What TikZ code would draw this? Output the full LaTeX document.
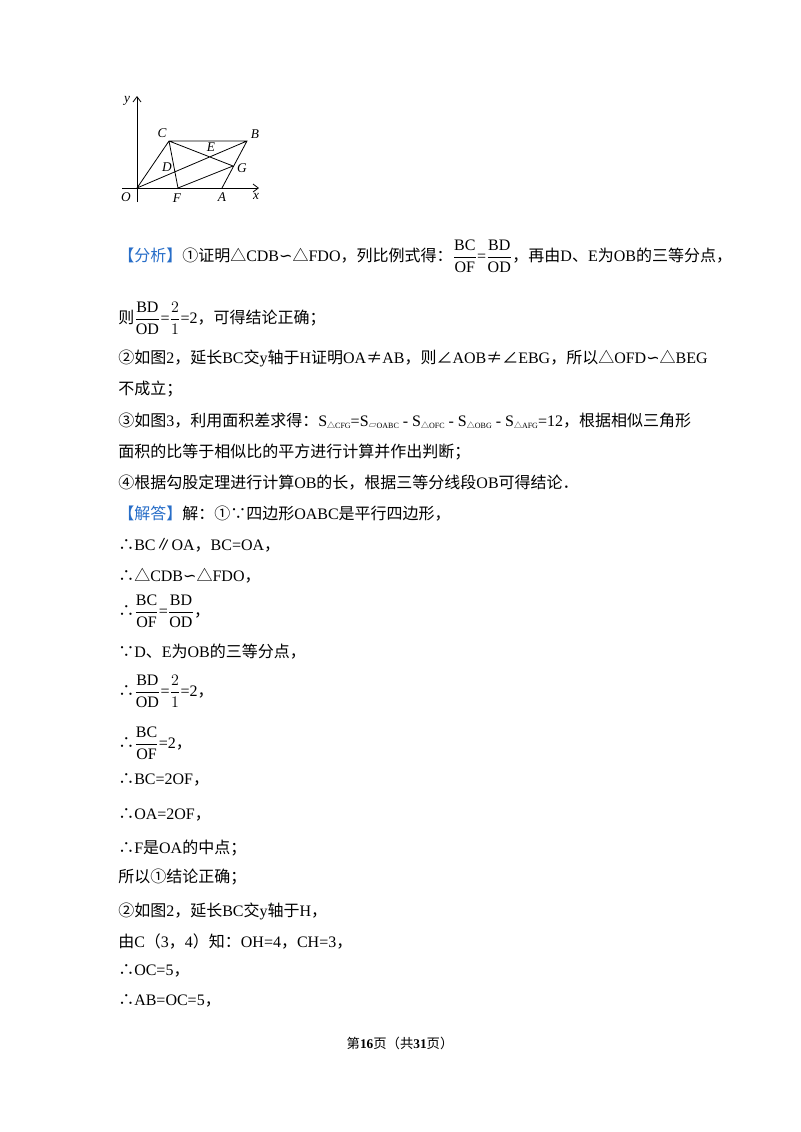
\documentclass[tikz,border=0pt]{standalone}
\usetikzlibrary{arrows.meta}
\usepackage{fontspec}
\setmainfont{Liberation Serif}
\newfontfamily\zh{Noto Sans CJK SC}
\newfontfamily\djfont{DejaVu Sans}
\definecolor{hb}{RGB}{40,110,200}
\newcommand{\simsym}{{\djfont ∽}}
\newcommand{\tfr}[2]{$\displaystyle\frac{\mathrm{#1}}{\mathrm{#2}}$}
\newcommand{\subsm}[1]{\raisebox{-0.3ex}{\fontsize{6}{6}\selectfont #1}}
\begin{document}
\begin{tikzpicture}[x=0.75pt,y=-0.75pt,
  tx/.style={anchor=west,inner sep=0pt,font=\fontsize{12}{14}\selectfont},
  lb/.style={inner sep=0pt,font=\fontsize{10}{12}\selectfont\itshape},
  ax/.style={line width=0.6pt,-{Straight Barb[length=4pt,width=6pt]}}]
\path[use as bounding box] (0,0) rectangle (800,1132);
% figure
\coordinate (O) at (137,188); \coordinate (C) at (169,141); \coordinate (B) at (247,141);
\coordinate (A) at (222,188); \coordinate (F) at (178,188); \coordinate (G) at (233,166);
\coordinate (xs) at (122,188); \coordinate (xe) at (259,188);
\coordinate (ys) at (137,202); \coordinate (ye) at (137,96);
\draw[ax] (xs) -- (xe);
\draw[ax] (ys) -- (ye);
\draw[line width=0.6pt] (O) -- (C) -- (B) -- (A) (O) -- (B) (C) -- (F) (C) -- (G) (F) -- (G);
\node[lb] (lC) at (162,133) {C}; \node[lb] (lB) at (255,134) {B};
\node[lb] (lE) at (211,147) {E}; \node[lb] (lD) at (167,167) {D};
\node[lb] (lG) at (242,168) {G}; \node[lb] (lO) at (126,197) {O};
\node[lb] (lF) at (177,198) {F}; \node[lb] (lA) at (222,197) {A};
\node[lb] (lx) at (256,196) {x}; \node[lb] (ly) at (127,101) {y};
% text
\node[tx] (t1) at (118,256) {{\zh\color{hb}【分析】}{\zh ①证明△}CDB\simsym{\zh △}FDO{\zh ，列比例式得：}\tfr{BC}{OF}=\tfr{BD}{OD}{\zh ，再由}D{\zh 、}E{\zh 为}OB{\zh 的三等分点，}};
\node[tx] (t2) at (118,318) {{\zh 则}\tfr{BD}{OD}=$\displaystyle\frac{2}{1}$=2{\zh ，可得结论正确；}};
\node[tx] (t3) at (118,358) {{\zh ②如图}2{\zh ，延长}BC{\zh 交}y{\zh 轴于}H{\zh 证明}OA{\zh ≠}AB{\zh ，则∠}AOB{\zh ≠∠}EBG{\zh ，所以△}OFD\simsym{\zh △}BEG};
\node[tx] (t4) at (118,389) {{\zh 不成立；}};
\node[tx] (t5) at (118,421) {{\zh ③如图}3{\zh ，利用面积差求得：}S\subsm{{\zh △}CFG}=S\subsm{{\zh ▱}OABC} - S\subsm{{\zh △}OFC} - S\subsm{{\zh △}OBG} - S\subsm{{\zh △}AFG}=12{\zh ，根据相似三角形}};
\node[tx] (t6) at (118,452) {{\zh 面积的比等于相似比的平方进行计算并作出判断；}};
\node[tx] (t7) at (118,483) {{\zh ④根据勾股定理进行计算}OB{\zh 的长，根据三等分线段}OB{\zh 可得结论．}};
\node[tx] (t8) at (118,514) {{\zh\color{hb}【解答】}{\zh 解：①∵四边形}OABC{\zh 是平行四边形，}};
\node[tx] (t9) at (118,545) {{\zh ∴}BC{\zh ∥}OA{\zh ，}BC=OA{\zh ，}};
\node[tx] (t10) at (118,576) {{\zh ∴△}CDB\simsym{\zh △}FDO{\zh ，}};
\node[tx] (t11) at (118,611) {{\zh ∴}\tfr{BC}{OF}=\tfr{BD}{OD}{\zh ，}};
\node[tx] (t12) at (118,652) {{\zh ∵}D{\zh 、}E{\zh 为}OB{\zh 的三等分点，}};
\node[tx] (t13) at (118,691) {{\zh ∴}\tfr{BD}{OD}=$\displaystyle\frac{2}{1}$=2{\zh ，}};
\node[tx] (t14) at (118,743) {{\zh ∴}\tfr{BC}{OF}=2{\zh ，}};
\node[tx] (t15) at (118,780) {{\zh ∴}BC=2OF{\zh ，}};
\node[tx] (t16) at (118,815) {{\zh ∴}OA=2OF{\zh ，}};
\node[tx] (t17) at (118,848) {{\zh ∴}F{\zh 是}OA{\zh 的中点；}};
\node[tx] (t18) at (118,877) {{\zh 所以①结论正确；}};
\node[tx] (t19) at (118,911) {{\zh ②如图}2{\zh ，延长}BC{\zh 交}y{\zh 轴于}H{\zh ，}};
\node[tx] (t20) at (118,941) {{\zh 由}C{\zh （}3{\zh ，}4{\zh ）知：}OH=4{\zh ，}CH=3{\zh ，}};
\node[tx] (t21) at (118,971) {{\zh ∴}OC=5{\zh ，}};
\node[tx] (t22) at (118,1001) {{\zh ∴}AB=OC=5{\zh ，}};
\node[inner sep=0pt,font=\fontsize{10}{12}\selectfont] (ft) at (400,1043) {{\zh 第}\textbf{16}{\zh 页（共}\textbf{31}{\zh 页）}};
\end{tikzpicture}
\end{document}
